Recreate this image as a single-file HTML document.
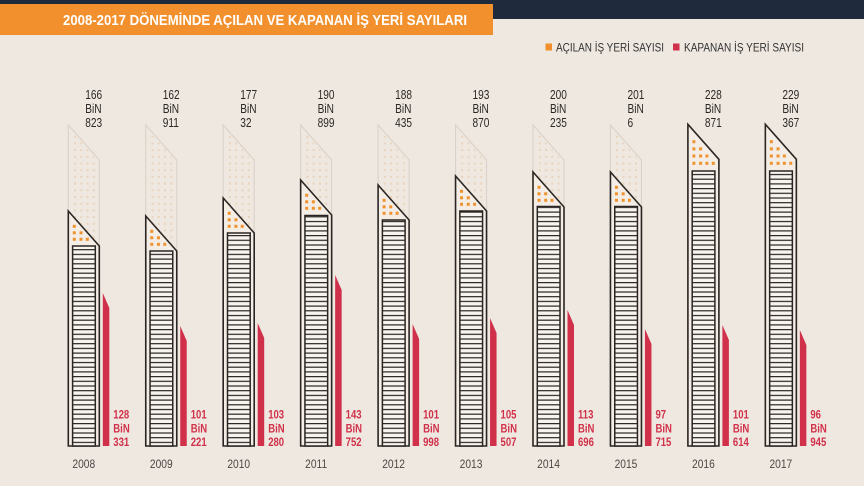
<!DOCTYPE html>
<html><head><meta charset="utf-8"><style>
html,body{margin:0;padding:0;background:#efe8e0;}
svg{display:block;}
.t{font-family:"Liberation Sans",sans-serif;font-size:13px;fill:#2b2826;}
.r{font-family:"Liberation Sans",sans-serif;font-size:12.4px;font-weight:bold;fill:#d1304a;}
.y{font-family:"Liberation Sans",sans-serif;font-size:11.5px;fill:#4a4745;}
.lg{font-family:"Liberation Sans",sans-serif;font-size:12px;fill:#333;}
</style></head><body>
<svg width="864" height="486" viewBox="0 0 864 486" xmlns="http://www.w3.org/2000/svg">
<defs>
<pattern id="gd" patternUnits="userSpaceOnUse" x="5.7" y="129" width="6.3" height="6.7"><rect x="0" y="0" width="2" height="2" fill="#e8d3bc"/></pattern>
<pattern id="rg" patternUnits="userSpaceOnUse" x="0" y="0" width="40" height="4.7"><rect width="40" height="4.7" fill="#f7f3ee"/><rect y="0" width="40" height="1.2" fill="#2a2522"/></pattern>
</defs>
<rect width="864" height="486" fill="#efe8e0"/>
<rect x="0" y="0" width="864" height="19" fill="#1f2b3c"/>
<rect x="0" y="4" width="493" height="31" fill="#f2902d"/>
<text x="63" y="25" textLength="404" lengthAdjust="spacingAndGlyphs" style="font-family:'Liberation Sans',sans-serif;font-size:15px;font-weight:bold;fill:#fff;">2008-2017 DÖNEMİNDE AÇILAN VE KAPANAN İŞ YERİ SAYILARI</text>
<rect x="545.5" y="43.5" width="6.5" height="7" fill="#f2902d"/>
<text class="lg" x="556" y="51.5" textLength="108" lengthAdjust="spacingAndGlyphs">AÇILAN İŞ YERİ SAYISI</text>
<rect x="673" y="43.5" width="6.5" height="7" fill="#d1304a"/>
<text class="lg" x="684" y="51.5" textLength="120" lengthAdjust="spacingAndGlyphs">KAPANAN İŞ YERİ SAYISI</text>

<!-- 2008 -->
<g transform="translate(68.3,0)">
<polygon points="0,125 31,160 31,446 0,446" fill="none" stroke="#dad2c8" stroke-width="1.1"/>
<polygon points="1.5,129 29.5,161 29.5,446 1.5,446" fill="url(#gd)"/>
<polygon points="0,211 31,246 31,446 0,446" fill="#f3ede6" stroke="#2a2522" stroke-width="1.6"/>
<rect x="4.3" y="246" width="22.7" height="200" fill="url(#rg)" stroke="#2a2522" stroke-width="1.5"/>
<g fill="#f0922e"><rect x="4.5" y="224.8" width="3" height="3"/><rect x="4.5" y="231.3" width="3" height="3"/><rect x="11.2" y="231.3" width="3" height="3"/><rect x="4.5" y="237.8" width="3" height="3"/><rect x="11.2" y="237.8" width="3" height="3"/><rect x="17.5" y="237.8" width="3" height="3"/></g>
<polygon points="34.5,293 41,308 41,446 34.5,446" fill="#d1304a"/>
<text class="t" transform="translate(17,99) scale(0.78,1)">166</text><text class="t" transform="translate(17,113) scale(0.78,1)">BiN</text><text class="t" transform="translate(17,127) scale(0.78,1)">823</text>
<text class="r" transform="translate(45,418.7) scale(0.77,1)">128</text><text class="r" transform="translate(45,432.3) scale(0.77,1)">BiN</text><text class="r" transform="translate(45,446) scale(0.77,1)">331</text>
<text class="y" text-anchor="middle" transform="translate(15.5,468) scale(0.89,1)">2008</text>
</g>

<!-- 2009 -->
<g transform="translate(145.75,0)">
<polygon points="0,125 31,160 31,446 0,446" fill="none" stroke="#dad2c8" stroke-width="1.1"/>
<polygon points="1.5,129 29.5,161 29.5,446 1.5,446" fill="url(#gd)"/>
<polygon points="0,216 31,251 31,446 0,446" fill="#f3ede6" stroke="#2a2522" stroke-width="1.6"/>
<rect x="4.3" y="251" width="22.7" height="195" fill="url(#rg)" stroke="#2a2522" stroke-width="1.5"/>
<g fill="#f0922e"><rect x="4.5" y="229.8" width="3" height="3"/><rect x="4.5" y="236.3" width="3" height="3"/><rect x="11.2" y="236.3" width="3" height="3"/><rect x="4.5" y="242.8" width="3" height="3"/><rect x="11.2" y="242.8" width="3" height="3"/><rect x="17.5" y="242.8" width="3" height="3"/></g>
<polygon points="34.5,326 41,341 41,446 34.5,446" fill="#d1304a"/>
<text class="t" transform="translate(17,99) scale(0.78,1)">162</text><text class="t" transform="translate(17,113) scale(0.78,1)">BiN</text><text class="t" transform="translate(17,127) scale(0.78,1)">911</text>
<text class="r" transform="translate(45,418.7) scale(0.77,1)">101</text><text class="r" transform="translate(45,432.3) scale(0.77,1)">BiN</text><text class="r" transform="translate(45,446) scale(0.77,1)">221</text>
<text class="y" text-anchor="middle" transform="translate(15.5,468) scale(0.89,1)">2009</text>
</g>

<!-- 2010 -->
<g transform="translate(223.2,0)">
<polygon points="0,125 31,160 31,446 0,446" fill="none" stroke="#dad2c8" stroke-width="1.1"/>
<polygon points="1.5,129 29.5,161 29.5,446 1.5,446" fill="url(#gd)"/>
<polygon points="0,198 31,233 31,446 0,446" fill="#f3ede6" stroke="#2a2522" stroke-width="1.6"/>
<rect x="4.3" y="233" width="22.7" height="213" fill="url(#rg)" stroke="#2a2522" stroke-width="1.5"/>
<g fill="#f0922e"><rect x="4.5" y="211.8" width="3" height="3"/><rect x="4.5" y="218.3" width="3" height="3"/><rect x="11.2" y="218.3" width="3" height="3"/><rect x="4.5" y="224.8" width="3" height="3"/><rect x="11.2" y="224.8" width="3" height="3"/><rect x="17.5" y="224.8" width="3" height="3"/></g>
<polygon points="34.5,323 41,338 41,446 34.5,446" fill="#d1304a"/>
<text class="t" transform="translate(17,99) scale(0.78,1)">177</text><text class="t" transform="translate(17,113) scale(0.78,1)">BiN</text><text class="t" transform="translate(17,127) scale(0.78,1)">32</text>
<text class="r" transform="translate(45,418.7) scale(0.77,1)">103</text><text class="r" transform="translate(45,432.3) scale(0.77,1)">BiN</text><text class="r" transform="translate(45,446) scale(0.77,1)">280</text>
<text class="y" text-anchor="middle" transform="translate(15.5,468) scale(0.89,1)">2010</text>
</g>

<!-- 2011 -->
<g transform="translate(300.65,0)">
<polygon points="0,125 31,160 31,446 0,446" fill="none" stroke="#dad2c8" stroke-width="1.1"/>
<polygon points="1.5,129 29.5,161 29.5,446 1.5,446" fill="url(#gd)"/>
<polygon points="0,180 31,215 31,446 0,446" fill="#f3ede6" stroke="#2a2522" stroke-width="1.6"/>
<rect x="4.3" y="215.5" width="22.7" height="230.5" fill="url(#rg)" stroke="#2a2522" stroke-width="1.5"/>
<g fill="#f0922e"><rect x="4.5" y="193.8" width="3" height="3"/><rect x="4.5" y="200.3" width="3" height="3"/><rect x="11.2" y="200.3" width="3" height="3"/><rect x="4.5" y="206.8" width="3" height="3"/><rect x="11.2" y="206.8" width="3" height="3"/><rect x="17.5" y="206.8" width="3" height="3"/></g>
<polygon points="34.5,275 41,290 41,446 34.5,446" fill="#d1304a"/>
<text class="t" transform="translate(17,99) scale(0.78,1)">190</text><text class="t" transform="translate(17,113) scale(0.78,1)">BiN</text><text class="t" transform="translate(17,127) scale(0.78,1)">899</text>
<text class="r" transform="translate(45,418.7) scale(0.77,1)">143</text><text class="r" transform="translate(45,432.3) scale(0.77,1)">BiN</text><text class="r" transform="translate(45,446) scale(0.77,1)">752</text>
<text class="y" text-anchor="middle" transform="translate(15.5,468) scale(0.89,1)">2011</text>
</g>

<!-- 2012 -->
<g transform="translate(378.1,0)">
<polygon points="0,125 31,160 31,446 0,446" fill="none" stroke="#dad2c8" stroke-width="1.1"/>
<polygon points="1.5,129 29.5,161 29.5,446 1.5,446" fill="url(#gd)"/>
<polygon points="0,185 31,220 31,446 0,446" fill="#f3ede6" stroke="#2a2522" stroke-width="1.6"/>
<rect x="4.3" y="220" width="22.7" height="226" fill="url(#rg)" stroke="#2a2522" stroke-width="1.5"/>
<g fill="#f0922e"><rect x="4.5" y="198.8" width="3" height="3"/><rect x="4.5" y="205.3" width="3" height="3"/><rect x="11.2" y="205.3" width="3" height="3"/><rect x="4.5" y="211.8" width="3" height="3"/><rect x="11.2" y="211.8" width="3" height="3"/><rect x="17.5" y="211.8" width="3" height="3"/></g>
<polygon points="34.5,324 41,339 41,446 34.5,446" fill="#d1304a"/>
<text class="t" transform="translate(17,99) scale(0.78,1)">188</text><text class="t" transform="translate(17,113) scale(0.78,1)">BiN</text><text class="t" transform="translate(17,127) scale(0.78,1)">435</text>
<text class="r" transform="translate(45,418.7) scale(0.77,1)">101</text><text class="r" transform="translate(45,432.3) scale(0.77,1)">BiN</text><text class="r" transform="translate(45,446) scale(0.77,1)">998</text>
<text class="y" text-anchor="middle" transform="translate(15.5,468) scale(0.89,1)">2012</text>
</g>

<!-- 2013 -->
<g transform="translate(455.55,0)">
<polygon points="0,125 31,160 31,446 0,446" fill="none" stroke="#dad2c8" stroke-width="1.1"/>
<polygon points="1.5,129 29.5,161 29.5,446 1.5,446" fill="url(#gd)"/>
<polygon points="0,176 31,211 31,446 0,446" fill="#f3ede6" stroke="#2a2522" stroke-width="1.6"/>
<rect x="4.3" y="211" width="22.7" height="235" fill="url(#rg)" stroke="#2a2522" stroke-width="1.5"/>
<g fill="#f0922e"><rect x="4.5" y="189.8" width="3" height="3"/><rect x="4.5" y="196.3" width="3" height="3"/><rect x="11.2" y="196.3" width="3" height="3"/><rect x="4.5" y="202.8" width="3" height="3"/><rect x="11.2" y="202.8" width="3" height="3"/><rect x="17.5" y="202.8" width="3" height="3"/></g>
<polygon points="34.5,318 41,333 41,446 34.5,446" fill="#d1304a"/>
<text class="t" transform="translate(17,99) scale(0.78,1)">193</text><text class="t" transform="translate(17,113) scale(0.78,1)">BiN</text><text class="t" transform="translate(17,127) scale(0.78,1)">870</text>
<text class="r" transform="translate(45,418.7) scale(0.77,1)">105</text><text class="r" transform="translate(45,432.3) scale(0.77,1)">BiN</text><text class="r" transform="translate(45,446) scale(0.77,1)">507</text>
<text class="y" text-anchor="middle" transform="translate(15.5,468) scale(0.89,1)">2013</text>
</g>

<!-- 2014 -->
<g transform="translate(533,0)">
<polygon points="0,125 31,160 31,446 0,446" fill="none" stroke="#dad2c8" stroke-width="1.1"/>
<polygon points="1.5,129 29.5,161 29.5,446 1.5,446" fill="url(#gd)"/>
<polygon points="0,172 31,207 31,446 0,446" fill="#f3ede6" stroke="#2a2522" stroke-width="1.6"/>
<rect x="4.3" y="206.5" width="22.7" height="239.5" fill="url(#rg)" stroke="#2a2522" stroke-width="1.5"/>
<g fill="#f0922e"><rect x="4.5" y="185.8" width="3" height="3"/><rect x="4.5" y="192.3" width="3" height="3"/><rect x="11.2" y="192.3" width="3" height="3"/><rect x="4.5" y="198.8" width="3" height="3"/><rect x="11.2" y="198.8" width="3" height="3"/><rect x="17.5" y="198.8" width="3" height="3"/></g>
<polygon points="34.5,310 41,325 41,446 34.5,446" fill="#d1304a"/>
<text class="t" transform="translate(17,99) scale(0.78,1)">200</text><text class="t" transform="translate(17,113) scale(0.78,1)">BiN</text><text class="t" transform="translate(17,127) scale(0.78,1)">235</text>
<text class="r" transform="translate(45,418.7) scale(0.77,1)">113</text><text class="r" transform="translate(45,432.3) scale(0.77,1)">BiN</text><text class="r" transform="translate(45,446) scale(0.77,1)">696</text>
<text class="y" text-anchor="middle" transform="translate(15.5,468) scale(0.89,1)">2014</text>
</g>

<!-- 2015 -->
<g transform="translate(610.45,0)">
<polygon points="0,125 31,160 31,446 0,446" fill="none" stroke="#dad2c8" stroke-width="1.1"/>
<polygon points="1.5,129 29.5,161 29.5,446 1.5,446" fill="url(#gd)"/>
<polygon points="0,172 31,207 31,446 0,446" fill="#f3ede6" stroke="#2a2522" stroke-width="1.6"/>
<rect x="4.3" y="206.5" width="22.7" height="239.5" fill="url(#rg)" stroke="#2a2522" stroke-width="1.5"/>
<g fill="#f0922e"><rect x="4.5" y="185.8" width="3" height="3"/><rect x="4.5" y="192.3" width="3" height="3"/><rect x="11.2" y="192.3" width="3" height="3"/><rect x="4.5" y="198.8" width="3" height="3"/><rect x="11.2" y="198.8" width="3" height="3"/><rect x="17.5" y="198.8" width="3" height="3"/></g>
<polygon points="34.5,329 41,344 41,446 34.5,446" fill="#d1304a"/>
<text class="t" transform="translate(17,99) scale(0.78,1)">201</text><text class="t" transform="translate(17,113) scale(0.78,1)">BiN</text><text class="t" transform="translate(17,127) scale(0.78,1)">6</text>
<text class="r" transform="translate(45,418.7) scale(0.77,1)">97</text><text class="r" transform="translate(45,432.3) scale(0.77,1)">BiN</text><text class="r" transform="translate(45,446) scale(0.77,1)">715</text>
<text class="y" text-anchor="middle" transform="translate(15.5,468) scale(0.89,1)">2015</text>
</g>

<!-- 2016 -->
<g transform="translate(687.9,0)">
<polygon points="0,124.3 31,159.3 31,446 0,446" fill="#f3ede6" stroke="#2a2522" stroke-width="1.6"/>
<rect x="4.3" y="171" width="22.7" height="275" fill="url(#rg)" stroke="#2a2522" stroke-width="1.5"/>
<g fill="#f0922e"><rect x="4.5" y="140.2" width="3" height="3"/><rect x="4.5" y="147.4" width="3" height="3"/><rect x="11.2" y="147.4" width="3" height="3"/><rect x="4.5" y="154.5" width="3" height="3"/><rect x="11.2" y="154.5" width="3" height="3"/><rect x="17.5" y="154.5" width="3" height="3"/><rect x="4.5" y="161.8" width="3" height="3"/><rect x="11.2" y="161.8" width="3" height="3"/><rect x="17.5" y="161.8" width="3" height="3"/><rect x="23.9" y="161.8" width="3" height="3"/></g>
<polygon points="34.5,325 41,340 41,446 34.5,446" fill="#d1304a"/>
<text class="t" transform="translate(17,99) scale(0.78,1)">228</text><text class="t" transform="translate(17,113) scale(0.78,1)">BiN</text><text class="t" transform="translate(17,127) scale(0.78,1)">871</text>
<text class="r" transform="translate(45,418.7) scale(0.77,1)">101</text><text class="r" transform="translate(45,432.3) scale(0.77,1)">BiN</text><text class="r" transform="translate(45,446) scale(0.77,1)">614</text>
<text class="y" text-anchor="middle" transform="translate(15.5,468) scale(0.89,1)">2016</text>
</g>

<!-- 2017 -->
<g transform="translate(765.35,0)">
<polygon points="0,124.3 31,159.3 31,446 0,446" fill="#f3ede6" stroke="#2a2522" stroke-width="1.6"/>
<rect x="4.3" y="171" width="22.7" height="275" fill="url(#rg)" stroke="#2a2522" stroke-width="1.5"/>
<g fill="#f0922e"><rect x="4.5" y="140.2" width="3" height="3"/><rect x="4.5" y="147.4" width="3" height="3"/><rect x="11.2" y="147.4" width="3" height="3"/><rect x="4.5" y="154.5" width="3" height="3"/><rect x="11.2" y="154.5" width="3" height="3"/><rect x="17.5" y="154.5" width="3" height="3"/><rect x="4.5" y="161.8" width="3" height="3"/><rect x="11.2" y="161.8" width="3" height="3"/><rect x="17.5" y="161.8" width="3" height="3"/><rect x="23.9" y="161.8" width="3" height="3"/></g>
<polygon points="34.5,330 41,345 41,446 34.5,446" fill="#d1304a"/>
<text class="t" transform="translate(17,99) scale(0.78,1)">229</text><text class="t" transform="translate(17,113) scale(0.78,1)">BiN</text><text class="t" transform="translate(17,127) scale(0.78,1)">367</text>
<text class="r" transform="translate(45,418.7) scale(0.77,1)">96</text><text class="r" transform="translate(45,432.3) scale(0.77,1)">BiN</text><text class="r" transform="translate(45,446) scale(0.77,1)">945</text>
<text class="y" text-anchor="middle" transform="translate(15.5,468) scale(0.89,1)">2017</text>
</g>
</svg>
</body></html>
